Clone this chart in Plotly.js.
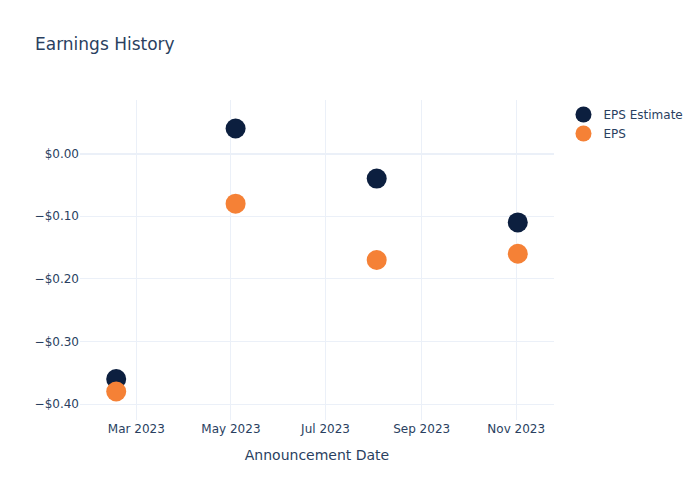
<!DOCTYPE html>
<html>
<head>
<meta charset="utf-8">
<script src="https://cdn.plot.ly/plotly-3.0.1.min.js"></script>
<style>html,body{margin:0;padding:0;background:#fff;}#chart{width:700px;height:500px;}</style>
</head>
<body>
<div id="chart"></div>
<script>
const dates = ["2023-02-16", "2023-05-04", "2023-08-03", "2023-11-02"];
const epsEstimate = [-0.36, 0.04, -0.04, -0.11];
const epsActual = [-0.38, -0.08, -0.17, -0.16];
const seriesNames = ["EPS Estimate", "EPS"];
const seriesColors = ["#0c1f3f", "#f58136"];

const traces = [
  {x: dates, y: epsEstimate, name: seriesNames[0], mode: "markers", type: "scatter",
   marker: {size: 20, color: seriesColors[0]}},
  {x: dates, y: epsActual, name: seriesNames[1], mode: "markers", type: "scatter",
   marker: {size: 20, color: seriesColors[1]}}
];

const layout = {
  width: 700, height: 500,
  paper_bgcolor: "#ffffff", plot_bgcolor: "#ffffff",
  font: {family: '"DejaVu Sans", verdana, arial, sans-serif', size: 12, color: "#2a3f5f"},
  title: {text: "Earnings History", x: 0.05, font: {size: 17, color: "#2a3f5f"}},
  xaxis: {
    type: "date",
    title: {text: "Announcement Date", font: {size: 14}, standoff: 15},
    automargin: true,
    gridcolor: "#EBF0F8", zerolinecolor: "#EBF0F8", showline: false, ticks: "",
    dtick: "M2", tick0: "2023-01-01", tickformat: "%b %Y"
  },
  yaxis: {
    tickformat: "$.2f",
    gridcolor: "#EBF0F8", zerolinecolor: "#EBF0F8", zerolinewidth: 2, showline: false, ticks: "",
    dtick: 0.1
  },
  legend: {font: {size: 12}},
  margin: {l: 80, r: 80, t: 100, b: 80}
};

Plotly.newPlot("chart", traces, layout, {displayModeBar: false});
</script>
</body>
</html>
